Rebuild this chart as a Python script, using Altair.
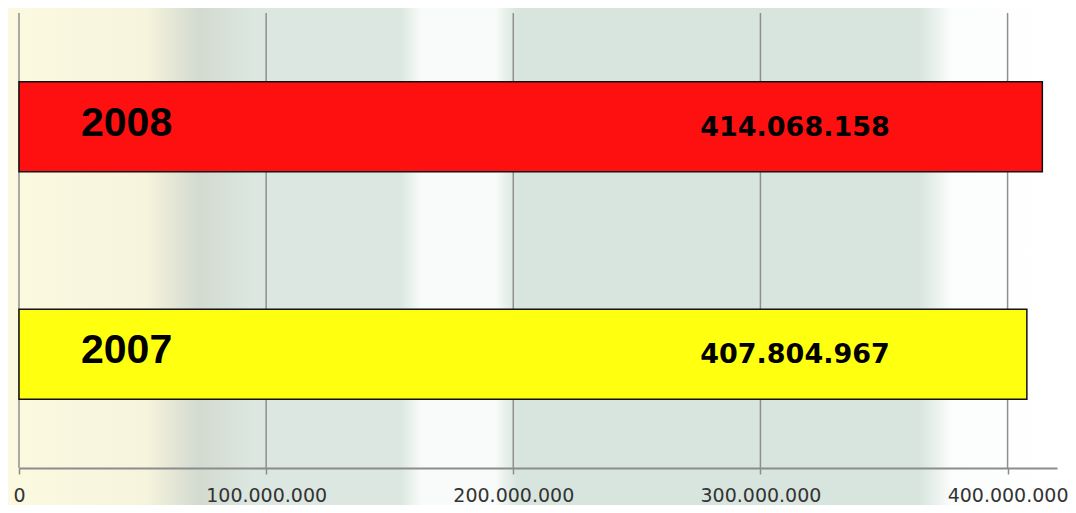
import altair as alt
import pandas as pd

years = ["2008", "2007"]
values = [414068158, 407804967]
value_labels = ["414.068.158", "407.804.967"]
bar_colors = ["#ff1010", "#ffff10"]
tick_values = [0, 100000000, 200000000, 300000000, 400000000]

df = pd.DataFrame({"year": years, "value": values, "label": value_labels})
ticks_df = pd.DataFrame({"value": tick_values})

W, H = 1038, 455

x_scale = alt.Scale(domain=[0, 420000000], nice=False, zero=True)
y_scale = alt.Scale(domain=years, paddingInner=0.604, paddingOuter=0.302)

x_axis = alt.Axis(values=tick_values, format=",d", title=None,
                  grid=False, labelFlush=False, zindex=1,
                  domainColor="#8c8c8c", domainWidth=2,
                  tickColor="#8c8c8c", tickSize=6, tickWidth=1.5,
                  labelFont="DejaVu Sans", labelFontSize=19,
                  labelColor="#333333", labelPadding=12,
                  labelExpr="replace(datum.label, /,/g, '.')")

bg = alt.Chart(pd.DataFrame({"k": [0]})).mark_rect(
    color=alt.Gradient(
        gradient="linear", x1=0, x2=1, y1=0, y2=0,
        stops=[
            alt.GradientStop(color="#fbf9e0", offset=0),
            alt.GradientStop(color="#f6f4dc", offset=0.13),
            alt.GradientStop(color="#d3dad0", offset=0.18),
            alt.GradientStop(color="#dbe7e0", offset=0.23),
            alt.GradientStop(color="#dbe7e0", offset=0.37),
            alt.GradientStop(color="#f8fbf9", offset=0.39),
            alt.GradientStop(color="#f8fbf9", offset=0.46),
            alt.GradientStop(color="#d8e5de", offset=0.48),
            alt.GradientStop(color="#d8e5de", offset=0.86),
            alt.GradientStop(color="#fbfdfc", offset=0.89),
            alt.GradientStop(color="#ffffff", offset=1),
        ],
    )
).encode(x=alt.value(-11), x2=alt.value(W + 11), y=alt.value(-5), y2=alt.value(H + 37))

grid = alt.Chart(ticks_df).mark_rule(color="#8f8f8f", strokeWidth=1.5).encode(
    x=alt.X("value:Q", scale=x_scale, axis=x_axis),
    y=alt.value(0), y2=alt.value(H),
)

bars = alt.Chart(df).mark_bar(stroke="#111111", strokeWidth=1.5).encode(
    x=alt.X("value:Q", scale=x_scale, axis=x_axis),
    y=alt.Y("year:N", scale=y_scale, sort=years, axis=None),
    color=alt.Color("year:N", scale=alt.Scale(domain=years, range=bar_colors), legend=None),
)

year_text = alt.Chart(df).mark_text(
    align="left", baseline="middle", font="Liberation Sans", fontWeight="bold",
    fontSize=41, color="#000000", dy=-3
).encode(x=alt.value(62), y=alt.Y("year:N", scale=y_scale, sort=years, axis=None), text="year:N")

value_text = alt.Chart(df).mark_text(
    align="center", baseline="middle", font="DejaVu Sans", fontWeight="bold",
    fontSize=27, color="#000000", dy=1
).encode(x=alt.value(776), y=alt.Y("year:N", scale=y_scale, sort=years, axis=None), text="label:N")

chart = alt.layer(bg, grid, bars, year_text, value_text).properties(
    width=W, height=H,
    autosize=alt.AutoSizeParams(type="none"),
    padding={"left": 11, "top": 5, "right": 11, "bottom": 37},
    background="#e6eee9",
).configure_view(stroke=None)

chart.save("out.html", embed_options={"renderer": "svg", "actions": False})
